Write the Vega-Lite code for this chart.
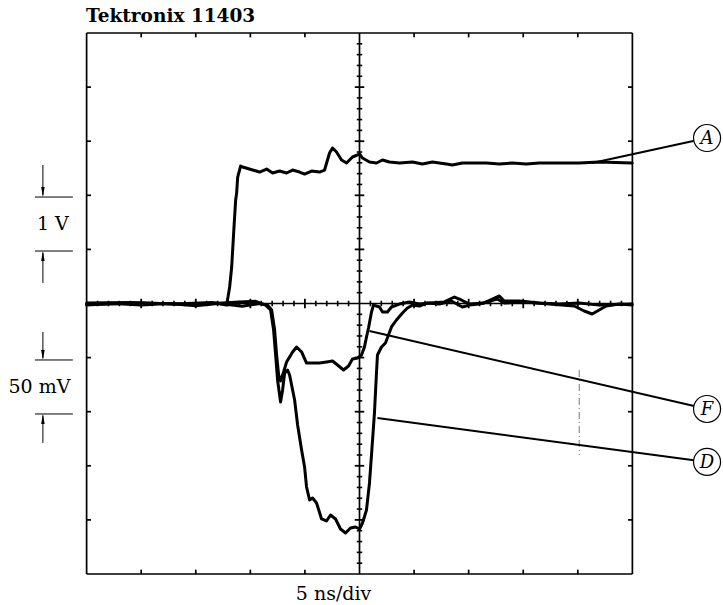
{
  "$schema": "https://vega.github.io/schema/vega-lite/v6.json",
  "width": 723,
  "height": 605,
  "autosize": {"type": "fit", "contains": "padding"},
  "padding": 0,
  "background": "white",
  "view": {"stroke": null},
  "datasets": {
    "frame": [
      {"x": -5, "y": 5, "x2": 5, "y2": 5},
      {"x": -5, "y": -5, "x2": 5, "y2": -5},
      {"x": -5, "y": -5, "x2": -5, "y2": 5},
      {"x": 5, "y": -5, "x2": 5, "y2": 5},
      {"x": -5, "y": 0, "x2": 5, "y2": 0},
      {"x": 0, "y": -5, "x2": 0, "y2": 5},
      {"x": -4, "y": 5, "x2": -4, "y2": 4.92}, {"x": -3, "y": 5, "x2": -3, "y2": 4.92}, {"x": -2, "y": 5, "x2": -2, "y2": 4.92}, {"x": -1, "y": 5, "x2": -1, "y2": 4.92},
      {"x": 1, "y": 5, "x2": 1, "y2": 4.92}, {"x": 2, "y": 5, "x2": 2, "y2": 4.92}, {"x": 3, "y": 5, "x2": 3, "y2": 4.92}, {"x": 4, "y": 5, "x2": 4, "y2": 4.92},
      {"x": -4, "y": -5, "x2": -4, "y2": -4.92}, {"x": -3, "y": -5, "x2": -3, "y2": -4.92}, {"x": -2, "y": -5, "x2": -2, "y2": -4.92}, {"x": -1, "y": -5, "x2": -1, "y2": -4.92},
      {"x": 1, "y": -5, "x2": 1, "y2": -4.92}, {"x": 2, "y": -5, "x2": 2, "y2": -4.92}, {"x": 3, "y": -5, "x2": 3, "y2": -4.92}, {"x": 4, "y": -5, "x2": 4, "y2": -4.92},
      {"x": -5, "y": -4, "x2": -4.92, "y2": -4}, {"x": -5, "y": -3, "x2": -4.92, "y2": -3}, {"x": -5, "y": -2, "x2": -4.92, "y2": -2}, {"x": -5, "y": -1, "x2": -4.92, "y2": -1},
      {"x": -5, "y": 1, "x2": -4.92, "y2": 1}, {"x": -5, "y": 2, "x2": -4.92, "y2": 2}, {"x": -5, "y": 3, "x2": -4.92, "y2": 3}, {"x": -5, "y": 4, "x2": -4.92, "y2": 4},
      {"x": 5, "y": -4, "x2": 4.92, "y2": -4}, {"x": 5, "y": -3, "x2": 4.92, "y2": -3}, {"x": 5, "y": -2, "x2": 4.92, "y2": -2}, {"x": 5, "y": -1, "x2": 4.92, "y2": -1},
      {"x": 5, "y": 1, "x2": 4.92, "y2": 1}, {"x": 5, "y": 2, "x2": 4.92, "y2": 2}, {"x": 5, "y": 3, "x2": 4.92, "y2": 3}, {"x": 5, "y": 4, "x2": 4.92, "y2": 4}
    ],
    "hminor": [
      {"x": -4.8, "y": 0}, {"x": -4.6, "y": 0}, {"x": -4.4, "y": 0}, {"x": -4.2, "y": 0}, {"x": -3.8, "y": 0}, {"x": -3.6, "y": 0}, {"x": -3.4, "y": 0}, {"x": -3.2, "y": 0},
      {"x": -2.8, "y": 0}, {"x": -2.6, "y": 0}, {"x": -2.4, "y": 0}, {"x": -2.2, "y": 0}, {"x": -1.8, "y": 0}, {"x": -1.6, "y": 0}, {"x": -1.4, "y": 0}, {"x": -1.2, "y": 0},
      {"x": -0.8, "y": 0}, {"x": -0.6, "y": 0}, {"x": -0.4, "y": 0}, {"x": -0.2, "y": 0}, {"x": 0.2, "y": 0}, {"x": 0.4, "y": 0}, {"x": 0.6, "y": 0}, {"x": 0.8, "y": 0},
      {"x": 1.2, "y": 0}, {"x": 1.4, "y": 0}, {"x": 1.6, "y": 0}, {"x": 1.8, "y": 0}, {"x": 2.2, "y": 0}, {"x": 2.4, "y": 0}, {"x": 2.6, "y": 0}, {"x": 2.8, "y": 0},
      {"x": 3.2, "y": 0}, {"x": 3.4, "y": 0}, {"x": 3.6, "y": 0}, {"x": 3.8, "y": 0}, {"x": 4.2, "y": 0}, {"x": 4.4, "y": 0}, {"x": 4.6, "y": 0}, {"x": 4.8, "y": 0}
    ],
    "vminor": [
      {"y": -4.8, "x": 0}, {"y": -4.6, "x": 0}, {"y": -4.4, "x": 0}, {"y": -4.2, "x": 0}, {"y": -3.8, "x": 0}, {"y": -3.6, "x": 0}, {"y": -3.4, "x": 0}, {"y": -3.2, "x": 0},
      {"y": -2.8, "x": 0}, {"y": -2.6, "x": 0}, {"y": -2.4, "x": 0}, {"y": -2.2, "x": 0}, {"y": -1.8, "x": 0}, {"y": -1.6, "x": 0}, {"y": -1.4, "x": 0}, {"y": -1.2, "x": 0},
      {"y": -0.8, "x": 0}, {"y": -0.6, "x": 0}, {"y": -0.4, "x": 0}, {"y": -0.2, "x": 0}, {"y": 0.2, "x": 0}, {"y": 0.4, "x": 0}, {"y": 0.6, "x": 0}, {"y": 0.8, "x": 0},
      {"y": 1.2, "x": 0}, {"y": 1.4, "x": 0}, {"y": 1.6, "x": 0}, {"y": 1.8, "x": 0}, {"y": 2.2, "x": 0}, {"y": 2.4, "x": 0}, {"y": 2.6, "x": 0}, {"y": 2.8, "x": 0},
      {"y": 3.2, "x": 0}, {"y": 3.4, "x": 0}, {"y": 3.6, "x": 0}, {"y": 3.8, "x": 0}, {"y": 4.2, "x": 0}, {"y": 4.4, "x": 0}, {"y": 4.6, "x": 0}, {"y": 4.8, "x": 0}
    ],
    "hmajor": [
      {"x": -4, "y": 0}, {"x": -3, "y": 0}, {"x": -2, "y": 0}, {"x": -1, "y": 0}, {"x": 1, "y": 0}, {"x": 2, "y": 0}, {"x": 3, "y": 0}, {"x": 4, "y": 0}
    ],
    "vmajor": [
      {"y": -4, "x": 0}, {"y": -3, "x": 0}, {"y": -2, "x": 0}, {"y": -1, "x": 0}, {"y": 1, "x": 0}, {"y": 2, "x": 0}, {"y": 3, "x": 0}, {"y": 4, "x": 0}
    ],
    "traces": [
      {"trace": "A", "x": -5.0, "y": -0.03}, {"trace": "A", "x": -4.5, "y": 0.0}, {"trace": "A", "x": -4.0, "y": -0.03},
      {"trace": "A", "x": -3.5, "y": 0.0}, {"trace": "A", "x": -3.0, "y": -0.04}, {"trace": "A", "x": -2.6, "y": 0.0},
      {"trace": "A", "x": -2.434, "y": -0.03}, {"trace": "A", "x": -2.379, "y": 0.305}, {"trace": "A", "x": -2.342, "y": 0.675},
      {"trace": "A", "x": -2.306, "y": 1.303}, {"trace": "A", "x": -2.269, "y": 1.913}, {"trace": "A", "x": -2.251, "y": 2.042},
      {"trace": "A", "x": -2.232, "y": 2.338}, {"trace": "A", "x": -2.178, "y": 2.541}, {"trace": "A", "x": -2.141, "y": 2.523},
      {"trace": "A", "x": -1.958, "y": 2.467}, {"trace": "A", "x": -1.83, "y": 2.43}, {"trace": "A", "x": -1.702, "y": 2.486},
      {"trace": "A", "x": -1.592, "y": 2.412}, {"trace": "A", "x": -1.464, "y": 2.449}, {"trace": "A", "x": -1.336, "y": 2.412},
      {"trace": "A", "x": -1.226, "y": 2.467}, {"trace": "A", "x": -1.098, "y": 2.43}, {"trace": "A", "x": -1.006, "y": 2.393},
      {"trace": "A", "x": -0.878, "y": 2.449}, {"trace": "A", "x": -0.732, "y": 2.43}, {"trace": "A", "x": -0.64, "y": 2.467},
      {"trace": "A", "x": -0.549, "y": 2.782}, {"trace": "A", "x": -0.494, "y": 2.874}, {"trace": "A", "x": -0.421, "y": 2.8},
      {"trace": "A", "x": -0.329, "y": 2.652}, {"trace": "A", "x": -0.238, "y": 2.597}, {"trace": "A", "x": -0.128, "y": 2.708},
      {"trace": "A", "x": 0.0, "y": 2.763}, {"trace": "A", "x": 0.055, "y": 2.689}, {"trace": "A", "x": 0.183, "y": 2.615},
      {"trace": "A", "x": 0.311, "y": 2.597}, {"trace": "A", "x": 0.421, "y": 2.652}, {"trace": "A", "x": 0.549, "y": 2.615},
      {"trace": "A", "x": 0.732, "y": 2.597}, {"trace": "A", "x": 0.97, "y": 2.615}, {"trace": "A", "x": 1.153, "y": 2.578},
      {"trace": "A", "x": 1.336, "y": 2.615}, {"trace": "A", "x": 1.592, "y": 2.578}, {"trace": "A", "x": 1.702, "y": 2.56},
      {"trace": "A", "x": 1.885, "y": 2.597}, {"trace": "A", "x": 2.068, "y": 2.597}, {"trace": "A", "x": 2.324, "y": 2.597},
      {"trace": "A", "x": 2.562, "y": 2.578}, {"trace": "A", "x": 2.8, "y": 2.597}, {"trace": "A", "x": 3.056, "y": 2.578},
      {"trace": "A", "x": 3.294, "y": 2.597}, {"trace": "A", "x": 3.66, "y": 2.597}, {"trace": "A", "x": 4.026, "y": 2.597},
      {"trace": "A", "x": 4.392, "y": 2.615}, {"trace": "A", "x": 4.996, "y": 2.597},

      {"trace": "F", "x": -5.0, "y": 0.01}, {"trace": "F", "x": -4.2, "y": 0.02}, {"trace": "F", "x": -3.4, "y": -0.01},
      {"trace": "F", "x": -2.7, "y": 0.02}, {"trace": "F", "x": -2.15, "y": -0.05}, {"trace": "F", "x": -1.83, "y": 0.0},
      {"trace": "F", "x": -1.683, "y": -0.03}, {"trace": "F", "x": -1.61, "y": -0.12}, {"trace": "F", "x": -1.555, "y": -0.49},
      {"trace": "F", "x": -1.519, "y": -0.952}, {"trace": "F", "x": -1.482, "y": -1.321}, {"trace": "F", "x": -1.446, "y": -1.432},
      {"trace": "F", "x": -1.391, "y": -1.266}, {"trace": "F", "x": -1.336, "y": -1.081}, {"trace": "F", "x": -1.226, "y": -0.896},
      {"trace": "F", "x": -1.153, "y": -0.804}, {"trace": "F", "x": -1.061, "y": -0.896}, {"trace": "F", "x": -0.97, "y": -1.1},
      {"trace": "F", "x": -0.86, "y": -1.1}, {"trace": "F", "x": -0.732, "y": -1.1}, {"trace": "F", "x": -0.604, "y": -1.081},
      {"trace": "F", "x": -0.494, "y": -1.063}, {"trace": "F", "x": -0.403, "y": -1.137}, {"trace": "F", "x": -0.293, "y": -1.229},
      {"trace": "F", "x": -0.201, "y": -1.155}, {"trace": "F", "x": -0.128, "y": -1.026}, {"trace": "F", "x": -0.037, "y": -1.007},
      {"trace": "F", "x": 0.037, "y": -0.952}, {"trace": "F", "x": 0.091, "y": -0.804}, {"trace": "F", "x": 0.128, "y": -0.619},
      {"trace": "F", "x": 0.165, "y": -0.453}, {"trace": "F", "x": 0.22, "y": -0.157}, {"trace": "F", "x": 0.256, "y": -0.03},
      {"trace": "F", "x": 0.366, "y": -0.065}, {"trace": "F", "x": 0.421, "y": -0.157}, {"trace": "F", "x": 0.512, "y": -0.157},
      {"trace": "F", "x": 0.586, "y": -0.065}, {"trace": "F", "x": 0.732, "y": -0.01}, {"trace": "F", "x": 0.915, "y": 0.028},
      {"trace": "F", "x": 1.098, "y": -0.01}, {"trace": "F", "x": 1.281, "y": 0.01}, {"trace": "F", "x": 1.555, "y": 0.03},
      {"trace": "F", "x": 1.738, "y": 0.12}, {"trace": "F", "x": 1.866, "y": 0.065}, {"trace": "F", "x": 2.013, "y": -0.01},
      {"trace": "F", "x": 2.287, "y": 0.01}, {"trace": "F", "x": 2.562, "y": 0.139}, {"trace": "F", "x": 2.653, "y": 0.046},
      {"trace": "F", "x": 2.928, "y": 0.046}, {"trace": "F", "x": 3.294, "y": 0.01}, {"trace": "F", "x": 3.66, "y": -0.01},
      {"trace": "F", "x": 4.026, "y": 0.01}, {"trace": "F", "x": 4.392, "y": -0.03}, {"trace": "F", "x": 4.996, "y": -0.01},

      {"trace": "D", "x": -5.0, "y": -0.02}, {"trace": "D", "x": -4.0, "y": 0.01}, {"trace": "D", "x": -3.0, "y": -0.02},
      {"trace": "D", "x": -2.2, "y": 0.03}, {"trace": "D", "x": -1.9, "y": 0.04}, {"trace": "D", "x": -1.72, "y": -0.03},
      {"trace": "D", "x": -1.629, "y": -0.12}, {"trace": "D", "x": -1.574, "y": -0.49}, {"trace": "D", "x": -1.537, "y": -0.952},
      {"trace": "D", "x": -1.501, "y": -1.414}, {"trace": "D", "x": -1.464, "y": -1.691}, {"trace": "D", "x": -1.446, "y": -1.821},
      {"trace": "D", "x": -1.409, "y": -1.599}, {"trace": "D", "x": -1.372, "y": -1.284}, {"trace": "D", "x": -1.318, "y": -1.229},
      {"trace": "D", "x": -1.281, "y": -1.321}, {"trace": "D", "x": -1.244, "y": -1.506}, {"trace": "D", "x": -1.189, "y": -1.783},
      {"trace": "D", "x": -1.134, "y": -2.245}, {"trace": "D", "x": -1.061, "y": -2.707}, {"trace": "D", "x": -1.006, "y": -3.022},
      {"trace": "D", "x": -0.97, "y": -3.392}, {"trace": "D", "x": -0.915, "y": -3.632}, {"trace": "D", "x": -0.86, "y": -3.595},
      {"trace": "D", "x": -0.787, "y": -3.687}, {"trace": "D", "x": -0.695, "y": -3.983}, {"trace": "D", "x": -0.604, "y": -4.02},
      {"trace": "D", "x": -0.531, "y": -3.909}, {"trace": "D", "x": -0.439, "y": -3.983}, {"trace": "D", "x": -0.348, "y": -4.168},
      {"trace": "D", "x": -0.256, "y": -4.242}, {"trace": "D", "x": -0.165, "y": -4.15}, {"trace": "D", "x": -0.073, "y": -4.131},
      {"trace": "D", "x": 0.0, "y": -4.168}, {"trace": "D", "x": 0.055, "y": -4.057}, {"trace": "D", "x": 0.128, "y": -3.817},
      {"trace": "D", "x": 0.183, "y": -3.317}, {"trace": "D", "x": 0.22, "y": -2.8}, {"trace": "D", "x": 0.274, "y": -2.024},
      {"trace": "D", "x": 0.311, "y": -1.284}, {"trace": "D", "x": 0.329, "y": -0.952}, {"trace": "D", "x": 0.403, "y": -0.804},
      {"trace": "D", "x": 0.476, "y": -0.73}, {"trace": "D", "x": 0.531, "y": -0.582}, {"trace": "D", "x": 0.586, "y": -0.434},
      {"trace": "D", "x": 0.677, "y": -0.305}, {"trace": "D", "x": 0.787, "y": -0.176}, {"trace": "D", "x": 0.878, "y": -0.083},
      {"trace": "D", "x": 0.97, "y": -0.03}, {"trace": "D", "x": 1.098, "y": -0.046}, {"trace": "D", "x": 1.244, "y": 0.01},
      {"trace": "D", "x": 1.464, "y": -0.01}, {"trace": "D", "x": 1.683, "y": 0.046}, {"trace": "D", "x": 1.885, "y": -0.065},
      {"trace": "D", "x": 2.013, "y": -0.03}, {"trace": "D", "x": 2.196, "y": -0.01}, {"trace": "D", "x": 2.525, "y": 0.083},
      {"trace": "D", "x": 2.653, "y": 0.01}, {"trace": "D", "x": 3.019, "y": 0.028}, {"trace": "D", "x": 3.477, "y": -0.01},
      {"trace": "D", "x": 3.934, "y": -0.046}, {"trace": "D", "x": 4.117, "y": -0.139}, {"trace": "D", "x": 4.263, "y": -0.194},
      {"trace": "D", "x": 4.392, "y": -0.12}, {"trace": "D", "x": 4.52, "y": -0.046}, {"trace": "D", "x": 4.758, "y": -0.01},
      {"trace": "D", "x": 4.996, "y": -0.03}
    ],
    "leaders": [
      {"x": 4.263, "y": 2.597, "x2": 6.368, "y2": 3.059},
      {"x": 0.183, "y": -0.508, "x2": 6.368, "y2": -1.95},
      {"x": 0.329, "y": -2.116, "x2": 6.368, "y2": -2.929}
    ],
    "markers": [
      {"x": -5.947, "y": 1.968, "x2": -5.252, "y2": 1.968},
      {"x": -5.947, "y": 0.97, "x2": -5.252, "y2": 0.97},
      {"x": -5.947, "y": -1.044, "x2": -5.252, "y2": -1.044},
      {"x": -5.947, "y": -2.042, "x2": -5.252, "y2": -2.042},
      {"x": -5.801, "y": 2.56, "x2": -5.801, "y2": 2.0},
      {"x": -5.801, "y": 0.379, "x2": -5.801, "y2": 0.94},
      {"x": -5.801, "y": -0.527, "x2": -5.801, "y2": -1.01},
      {"x": -5.801, "y": -2.578, "x2": -5.801, "y2": -2.07}
    ],
    "downArrows": [{"x": -5.801, "y": 2.06}, {"x": -5.801, "y": -0.952}],
    "upArrows": [{"x": -5.801, "y": 0.878}, {"x": -5.801, "y": -2.134}],
    "artifact": [{"x": 4.026, "y": -1.229, "x2": 4.026, "y2": -2.8}],
    "circles": [
      {"x": 6.368, "y": 3.059, "text": "A"},
      {"x": 6.368, "y": -1.95, "text": "F"},
      {"x": 6.368, "y": -2.929, "text": "D"}
    ],
    "title": [{"x": -5.01, "y": 5.202, "text": "Tektronix  11403"}],
    "labels": [
      {"x": -5.618, "y": 1.358, "text": "1  V"},
      {"x": -5.865, "y": -1.654, "text": "50  mV"},
      {"x": -0.476, "y": -5.479, "text": "5   ns/div"}
    ]
  },
  "encoding": {
    "x": {"field": "x", "type": "quantitative", "scale": {"domain": [-6.587, 6.642], "nice": false, "zero": false}, "axis": null},
    "y": {"field": "y", "type": "quantitative", "scale": {"domain": [-5.573, 5.61], "nice": false, "zero": false}, "axis": null}
  },
  "layer": [
    {
      "data": {"name": "artifact"},
      "mark": {"type": "rule", "color": "#555", "strokeWidth": 0.8, "strokeDash": [7, 3, 1, 3]},
      "encoding": {"x2": {"field": "x2"}, "y2": {"field": "y2"}}
    },
    {
      "data": {"name": "frame"},
      "mark": {"type": "rule", "color": "black", "strokeWidth": 1.7},
      "encoding": {"x2": {"field": "x2"}, "y2": {"field": "y2"}}
    },
    {
      "data": {"name": "hminor"},
      "mark": {"type": "point", "shape": "M 0 -1 L 0 1", "size": 30, "filled": false, "color": "black", "strokeWidth": 1.6, "opacity": 1}
    },
    {
      "data": {"name": "vminor"},
      "mark": {"type": "point", "shape": "M -1 0 L 1 0", "size": 30, "filled": false, "color": "black", "strokeWidth": 1.6, "opacity": 1}
    },
    {
      "data": {"name": "hmajor"},
      "mark": {"type": "point", "shape": "M 0 -1 L 0 1", "size": 90, "filled": false, "color": "black", "strokeWidth": 1.8, "opacity": 1}
    },
    {
      "data": {"name": "vmajor"},
      "mark": {"type": "point", "shape": "M -1 0 L 1 0", "size": 90, "filled": false, "color": "black", "strokeWidth": 1.8, "opacity": 1}
    },
    {
      "data": {"name": "traces"},
      "mark": {"type": "line", "color": "black", "strokeWidth": 3, "strokeJoin": "round", "strokeCap": "round"},
      "encoding": {"detail": {"field": "trace"}}
    },
    {
      "data": {"name": "leaders"},
      "mark": {"type": "rule", "color": "black", "strokeWidth": 2},
      "encoding": {"x2": {"field": "x2"}, "y2": {"field": "y2"}}
    },
    {
      "data": {"name": "markers"},
      "mark": {"type": "rule", "color": "black", "strokeWidth": 1},
      "encoding": {"x2": {"field": "x2"}, "y2": {"field": "y2"}}
    },
    {
      "data": {"name": "downArrows"},
      "mark": {"type": "point", "shape": "M -0.35 -1 L 0.35 -1 L 0 1 Z", "size": 100, "filled": true, "color": "black", "opacity": 1}
    },
    {
      "data": {"name": "upArrows"},
      "mark": {"type": "point", "shape": "M -0.35 1 L 0.35 1 L 0 -1 Z", "size": 100, "filled": true, "color": "black", "opacity": 1}
    },
    {
      "data": {"name": "circles"},
      "mark": {"type": "point", "shape": "circle", "size": 729, "fill": "white", "stroke": "black", "strokeWidth": 1.2, "opacity": 1, "fillOpacity": 1}
    },
    {
      "data": {"name": "circles"},
      "mark": {"type": "text", "font": "DejaVu Serif", "fontStyle": "italic", "fontSize": 18, "align": "center", "baseline": "middle", "dy": 1, "color": "black"},
      "encoding": {"text": {"field": "text"}}
    },
    {
      "data": {"name": "title"},
      "mark": {"type": "text", "font": "DejaVu Serif", "fontWeight": "bold", "fontSize": 18.5, "align": "left", "baseline": "alphabetic", "color": "black"},
      "encoding": {"text": {"field": "text"}}
    },
    {
      "data": {"name": "labels"},
      "mark": {"type": "text", "font": "DejaVu Serif", "fontSize": 19, "align": "center", "baseline": "alphabetic", "color": "black"},
      "encoding": {"text": {"field": "text"}}
    }
  ]
}
